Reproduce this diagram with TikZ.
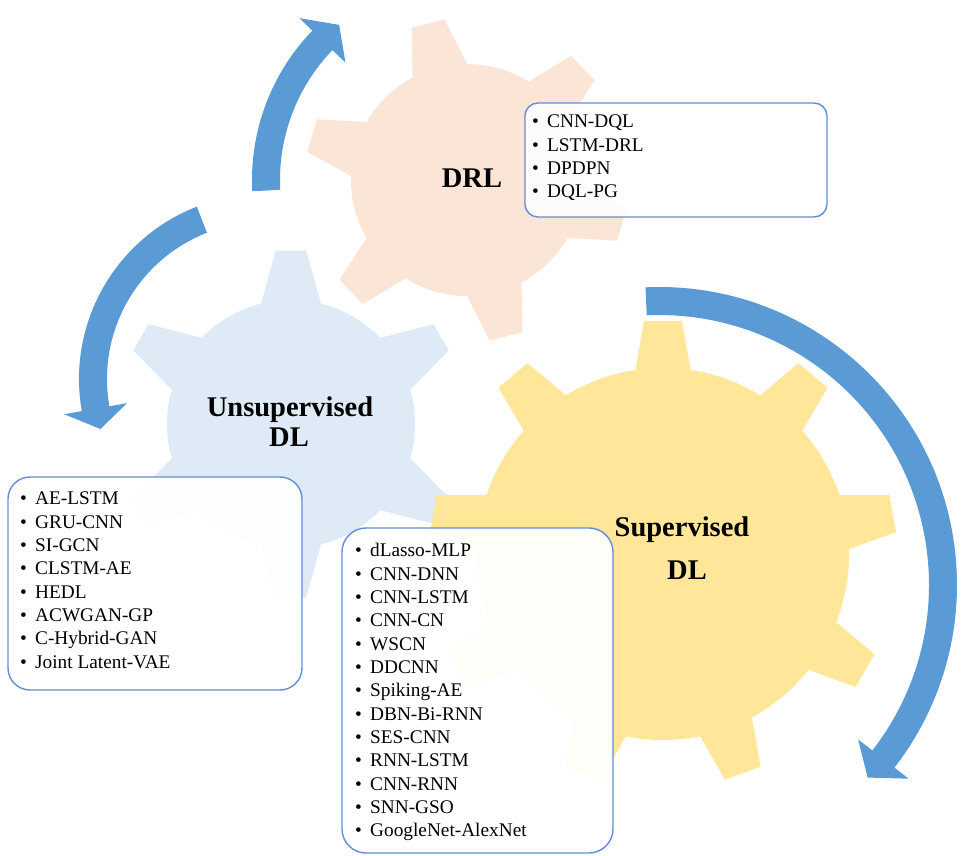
\documentclass[tikz,border=0pt]{standalone}
\usepackage{fontspec}
\setmainfont{Liberation Serif}
\definecolor{gearpeach}{HTML}{FBE5D6}
\definecolor{gearblue}{HTML}{DEEBF7}
\definecolor{gearyellow}{HTML}{FFE699}
\definecolor{arrowblue}{HTML}{5B9BD5}
\definecolor{boxline}{RGB}{100,140,215}

% gear: centre x, centre y, teeth, first tooth angle, body radius,
% tip radius, half-angle at root, half-angle at tip, colour
\newcommand\drawgear[9]{%
  \begin{scope}[shift={(#1,#2)}]
    \fill[#9] (0,0) circle[radius=#5];
    \foreach \k in {1,...,#3}{%
      \pgfmathsetmacro\gta{#4+360/#3*\k}%
      \fill[#9] (0,0) -- (\gta-#7:#5) -- (\gta-#8:#6) -- (\gta+#8:#6) -- (\gta+#7:#5) -- cycle;
    }
  \end{scope}}

% curved block arrow: centre x, centre y, mid radius, tail angle,
% head base angle, tip angle
\newcommand\bendarrow[6]{%
  \begin{scope}[shift={(#1,#2)}]
    \pgfmathsetmacro\bRo{#3+14}\pgfmathsetmacro\bRi{#3-14}%
    \pgfmathsetmacro\bWo{#3+32}\pgfmathsetmacro\bWi{#3-32}%
    \fill[arrowblue] (#4:\bRo) arc[start angle=#4,end angle=#5,radius=\bRo]
      -- (#5:\bWo) -- (#6:#3) -- (#5:\bWi) -- (#5:\bRi)
      arc[start angle=#5,end angle=#4,radius=\bRi] -- cycle;
  \end{scope}}

\tikzset{
  listbox/.style={draw=boxline, line width=1.4pt, fill=white, fill opacity=0.92},
  listitem/.style={anchor=base west, inner sep=0pt, text=black,
    font=\fontsize{19.3}{23}\selectfont},
  geartitle/.style={anchor=base, inner sep=0pt, text=black,
    font=\fontsize{28.5}{30}\selectfont\bfseries},
}
\newcommand\bul[1]{\makebox[15pt][l]{•}#1}

\begin{document}
\begin{tikzpicture}[x=1pt,y=1pt]
  \useasboundingbox (0,0) rectangle (962,855);
  \fill[white] (0,0) rectangle (962,855);

  % gears
  \drawgear{467}{675}{6}{44}{116}{162}{14}{6}{gearpeach}
  \drawgear{291}{431}{6}{30}{124}{174}{14}{5}{gearblue}
  \drawgear{663}{301}{9}{10}{186}{234}{8.5}{4.65}{gearyellow}

  % cycle arrows
  \bendarrow{467}{675}{201}{183}{136}{129.5}
  \bendarrow{264}{476}{171}{111.3}{190}{197}
  \bendarrow{659}{270}{284}{92.6}{-37.8}{-42.7}

  % gear titles
  \node[geartitle] (drl) at (472,667) {DRL};
  \node[geartitle] (unsup1) at (290,438) {Unsupervised};
  \node[geartitle] (unsup2) at (289,408) {DL};
  \node[geartitle] (sup1) at (682,318) {Supervised};
  \node[geartitle] (sup2) at (687,275) {DL};

  % method lists
  \draw[listbox, rounded corners=13pt] (525,638) rectangle (827,752);
  \foreach \t [count=\i] in {CNN-DQL, LSTM-DRL, DPDPN, DQL-PG}
    \node[listitem] (drl-\i) at (532,{727-23.3*(\i-1)}) {\bul{\t}};

  \draw[listbox, rounded corners=22pt] (8,165) rectangle (302,378);
  \foreach \t [count=\i] in {AE-LSTM, GRU-CNN, SI-GCN, CLSTM-AE, HEDL,
      ACWGAN-GP, C-Hybrid-GAN, Joint Latent-VAE}
    \node[listitem] (unsup-\i) at (20,{350-23.3*(\i-1)}) {\bul{\t}};

  \draw[listbox, rounded corners=24pt] (342,2) rectangle (613,327);
  \foreach \t [count=\i] in {dLasso-MLP, CNN-DNN, CNN-LSTM, CNN-CN, WSCN,
      DDCNN, Spiking-AE, DBN-Bi-RNN, SES-CNN, RNN-LSTM, CNN-RNN, SNN-GSO,
      GoogleNet-AlexNet}
    \node[listitem] (sup-\i) at (355,{298-23.33*(\i-1)}) {\bul{\t}};
\end{tikzpicture}
\end{document}
